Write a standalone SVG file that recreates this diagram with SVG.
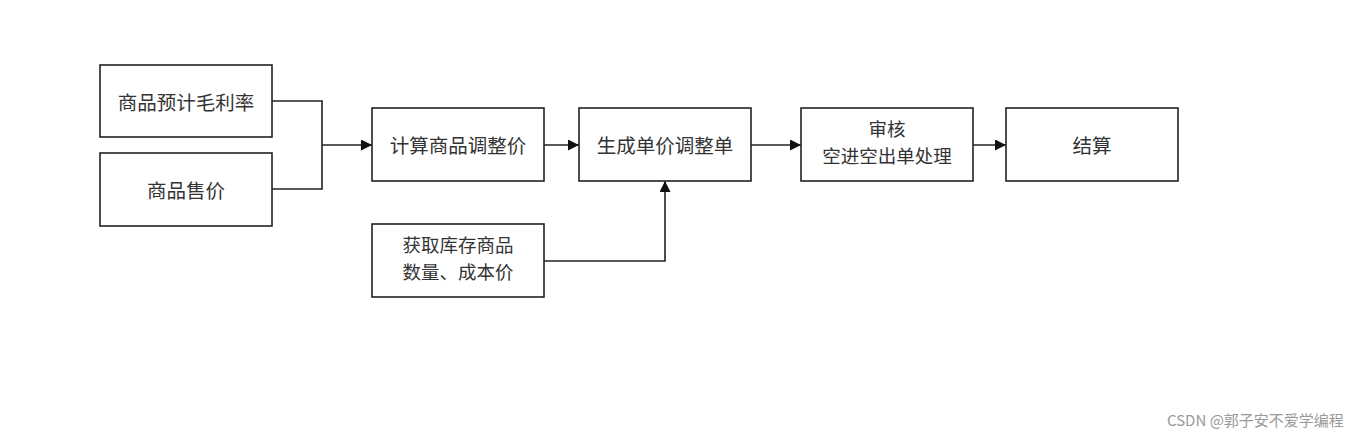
<svg xmlns="http://www.w3.org/2000/svg" width="1358" height="440" viewBox="0 0 1358 440">
<defs>
<marker id="arr" viewBox="0 0 10 10" refX="10" refY="5" markerWidth="11" markerHeight="11" markerUnits="userSpaceOnUse" orient="auto">
<path d="M0,0 L10,5 L0,10 z" fill="#111"/>
</marker>
<style>
.box{fill:#fff;stroke:#222;stroke-width:1.6}
.t{font-family:"Noto Sans CJK SC","Liberation Sans",sans-serif;font-size:19.5px;fill:#333;text-anchor:middle;dominant-baseline:central}
.t2{font-size:18.5px}
.c{fill:none;stroke:#222;stroke-width:1.6}
.wm{font-family:"Noto Sans CJK SC","Liberation Sans",sans-serif;font-size:15px;fill:#999}
</style>
</defs>
<rect width="1358" height="440" fill="#fff"/>
<g id="connectors">
<path class="c" d="M272,101 H322 V189 H272"/>
<path class="c" d="M322,145 H372" marker-end="url(#arr)"/>
<path class="c" d="M544,145 H579" marker-end="url(#arr)"/>
<path class="c" d="M544,261 H665 V181" marker-end="url(#arr)"/>
<path class="c" d="M751,145 H801" marker-end="url(#arr)"/>
<path class="c" d="M973,145 H1006" marker-end="url(#arr)"/>
</g>
<g id="n1"><rect class="box" x="100" y="65" width="172" height="72"/><text class="t" x="186" y="101">商品预计毛利率</text></g>
<g id="n2"><rect class="box" x="100" y="153" width="172" height="73"/><text class="t" x="186" y="189">商品售价</text></g>
<g id="n3"><rect class="box" x="372" y="108" width="172" height="73"/><text class="t" x="458" y="144">计算商品调整价</text></g>
<g id="n4"><rect class="box" x="579" y="108" width="172" height="73"/><text class="t" x="665" y="144">生成单价调整单</text></g>
<g id="n5"><rect class="box" x="372" y="224" width="172" height="73"/><text class="t t2" x="458" y="244">获取库存商品</text><text class="t t2" x="458" y="271">数量、成本价</text></g>
<g id="n6"><rect class="box" x="801" y="108" width="172" height="73"/><text class="t t2" x="887" y="128">审核</text><text class="t t2" x="887" y="155">空进空出单处理</text></g>
<g id="n7"><rect class="box" x="1006" y="108" width="172" height="73"/><text class="t" x="1092" y="144">结算</text></g>
<text class="wm" x="1167" y="426">CSDN @郭子安不爱学编程</text>
</svg>
